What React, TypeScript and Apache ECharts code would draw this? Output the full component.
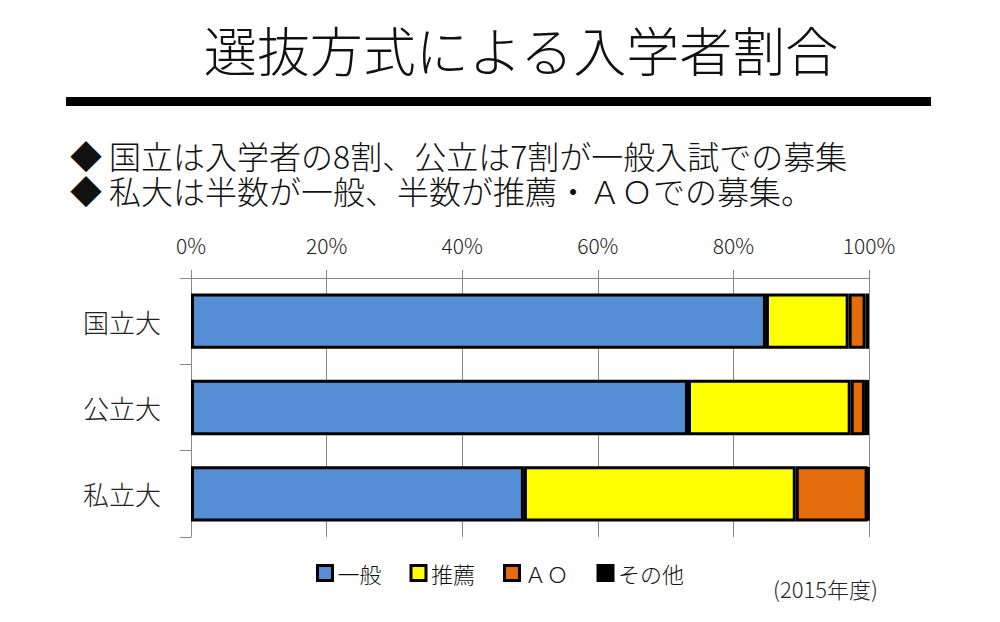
import React, { useEffect, useRef } from "react";
import * as echarts from "echarts";

const categories = ["国立大", "公立大", "私立大"];
const seriesNames = ["一般", "推薦", "ＡＯ", "その他"];
const ippan = [84.8, 73.3, 49.1];
const suisen = [12.2, 24.0, 40.1];
const ao = [2.5, 2.1, 10.6];
const other = [0.5, 0.6, 0.2];
const colors = ["#558ed5", "#ffff00", "#e46c0a", "#000000"];

const titleText = "選抜方式による入学者割合";
const bullet1 = "◆ 国立は入学者の8割、公立は7割が一般入試での募集";
const bullet2 = "◆ 私大は半数が一般、半数が推薦・ＡＯでの募集。";
const noteText = "(2015年度)";

const FONT = "'Noto Sans CJK JP', 'Noto Sans', sans-serif";

export default function App() {
  const ref = useRef<HTMLDivElement>(null);
  useEffect(() => {
    if (!ref.current) return;
    const chart = echarts.init(ref.current, undefined, { renderer: "svg" });
    const data = [ippan, suisen, ao, other];
    chart.setOption({
      animation: false,
      textStyle: { fontFamily: FONT },
      grid: { left: 191, right: 131, top: 278, bottom: 85 },
      legend: {
        left: "center",
        top: 557,
        icon: "rect",
        itemWidth: 15,
        itemHeight: 15,
        itemGap: 28,
        textStyle: { fontSize: 22, fontWeight: 300, color: "#111", fontFamily: FONT },
        data: seriesNames.map((n) => ({ name: n, itemStyle: { borderColor: "#000", borderWidth: 3 } })),
      },
      xAxis: {
        type: "value",
        position: "top",
        min: 0,
        max: 100,
        interval: 20,
        axisLine: { show: true, lineStyle: { color: "#888", width: 1 } },
        axisTick: { show: true, length: 8, lineStyle: { color: "#888" } },
        splitLine: { show: true, lineStyle: { color: "#888", width: 1 } },
        axisLabel: { formatter: "{value}%", fontSize: 21, fontWeight: 300, color: "#222", margin: 23, fontFamily: FONT },
      },
      yAxis: {
        type: "category",
        inverse: true,
        data: categories,
        axisLine: { show: true, lineStyle: { color: "#888", width: 1 } },
        axisTick: { show: true, length: 11, lineStyle: { color: "#888" } },
        axisLabel: { fontSize: 26, fontWeight: 300, color: "#222", margin: 30, fontFamily: FONT },
      },
      series: seriesNames.map((n, i) => ({
        name: n,
        type: "bar",
        stack: "total",
        barWidth: "64%",
        data: data[i],
        itemStyle: { color: colors[i], borderColor: "#000", borderWidth: 3 },
      })),
      graphic: [
        {
          type: "text",
          x: 521,
          y: 22,
          style: { text: titleText, align: "center", verticalAlign: "top", font: `300 53px ${FONT}`, fill: "#111" },
        },
        {
          type: "rect",
          shape: { x: 66, y: 97, width: 865, height: 9 },
          style: { fill: "#000" },
        },
        {
          type: "text",
          x: 70,
          y: 137,
          style: {
            text: bullet1 + "\n" + bullet2,
            verticalAlign: "top",
            lineHeight: 35,
            font: `300 32px ${FONT}`,
            fill: "#111",
          },
        },
        {
          type: "text",
          x: 773,
          y: 577,
          style: { text: noteText, verticalAlign: "top", font: `300 22px ${FONT}`, fill: "#222" },
        },
      ],
    });
    return () => chart.dispose();
  }, []);
  return (
    <div
      ref={ref}
      style={{ position: "fixed", left: 0, top: 0, width: 1000, height: 622, background: "#fff" }}
    />
  );
}
